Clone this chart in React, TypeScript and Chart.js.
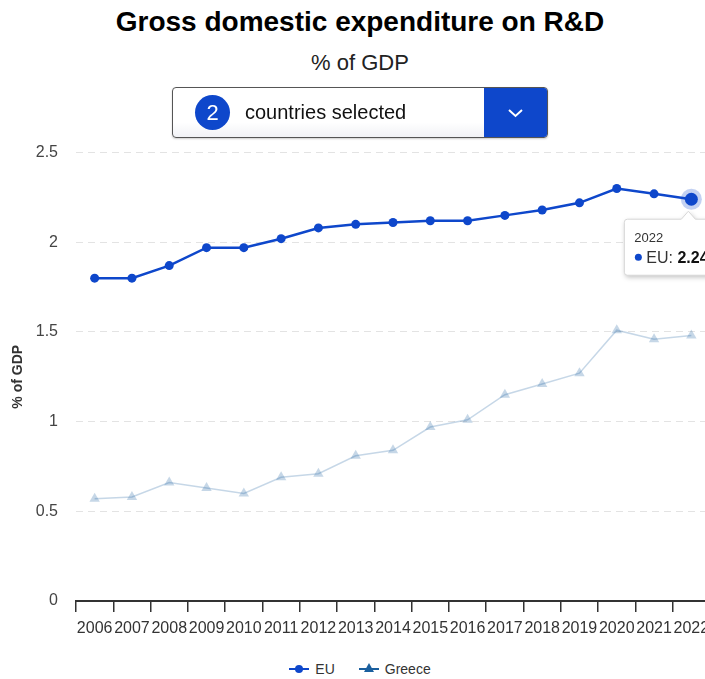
import React, { useEffect, useRef } from 'react';
import { Chart, registerables } from 'chart.js';

Chart.register(...registerables);

const years = ['2006', '2007', '2008', '2009', '2010', '2011', '2012', '2013', '2014', '2015', '2016', '2017', '2018', '2019', '2020', '2021', '2022'];
const euValues = [1.8, 1.8, 1.87, 1.97, 1.97, 2.02, 2.08, 2.1, 2.11, 2.12, 2.12, 2.15, 2.18, 2.22, 2.3, 2.27, 2.24];
const greeceValues = [0.57, 0.58, 0.66, 0.63, 0.6, 0.69, 0.71, 0.81, 0.84, 0.97, 1.01, 1.15, 1.21, 1.27, 1.51, 1.46, 1.48];
const seriesNames = ['EU', 'Greece'];
const yMin = 0;
const yMax = 2.5;
const yStep = 0.5;
const tooltipIndex = 16;

const FONT = '"Liberation Sans", Arial, Helvetica, sans-serif';
const EU_COLOR = '#0e47cb';
const GREECE_COLOR = '#1a5f9e';
const GREECE_FADED = 'rgba(26,95,158,0.25)';

const highlightPlugin = {
  id: 'highlightPlugin',
  beforeDatasetsDraw(chart: any) {
    const meta = chart.getDatasetMeta(0);
    const el = meta.data[tooltipIndex];
    if (!el) return;
    const ctx = chart.ctx;
    ctx.save();
    ctx.beginPath();
    ctx.arc(el.x, el.y, 10.5, 0, Math.PI * 2);
    ctx.fillStyle = 'rgba(14,71,203,0.25)';
    ctx.fill();
    ctx.restore();
  },
  afterDraw(chart: any) {
    const meta = chart.getDatasetMeta(0);
    const el = meta.data[tooltipIndex];
    if (!el) return;
    const ctx = chart.ctx;
    const px = el.x;
    const py = el.y;
    const boxLeft = px - 67;
    const boxTop = py + 20;
    const boxW = 94;
    const boxH = 56;
    const caretX = px - 3;
    const r = 3;
    ctx.save();
    ctx.beginPath();
    ctx.moveTo(boxLeft + r, boxTop);
    ctx.lineTo(caretX - 7, boxTop);
    ctx.lineTo(caretX, boxTop - 8);
    ctx.lineTo(caretX + 7, boxTop);
    ctx.lineTo(boxLeft + boxW - r, boxTop);
    ctx.quadraticCurveTo(boxLeft + boxW, boxTop, boxLeft + boxW, boxTop + r);
    ctx.lineTo(boxLeft + boxW, boxTop + boxH - r);
    ctx.quadraticCurveTo(boxLeft + boxW, boxTop + boxH, boxLeft + boxW - r, boxTop + boxH);
    ctx.lineTo(boxLeft + r, boxTop + boxH);
    ctx.quadraticCurveTo(boxLeft, boxTop + boxH, boxLeft, boxTop + boxH - r);
    ctx.lineTo(boxLeft, boxTop + r);
    ctx.quadraticCurveTo(boxLeft, boxTop, boxLeft + r, boxTop);
    ctx.closePath();
    ctx.shadowColor = 'rgba(0,0,0,0.25)';
    ctx.shadowBlur = 5;
    ctx.shadowOffsetX = 1;
    ctx.shadowOffsetY = 2;
    ctx.fillStyle = '#ffffff';
    ctx.fill();
    ctx.shadowColor = 'transparent';
    ctx.lineWidth = 1;
    ctx.strokeStyle = '#d8d8d8';
    ctx.stroke();

    ctx.fillStyle = '#333333';
    ctx.textBaseline = 'alphabetic';
    ctx.textAlign = 'left';
    ctx.font = `13px ${FONT}`;
    ctx.fillText(years[tooltipIndex], boxLeft + 10, boxTop + 23);

    ctx.beginPath();
    ctx.arc(boxLeft + 14, boxTop + 38, 3.5, 0, Math.PI * 2);
    ctx.fillStyle = EU_COLOR;
    ctx.fill();

    ctx.fillStyle = '#333333';
    ctx.font = `16px ${FONT}`;
    const label = `${seriesNames[0]}: `;
    ctx.fillText(label, boxLeft + 22, boxTop + 44);
    const lw = ctx.measureText(label).width;
    ctx.font = `bold 16px ${FONT}`;
    ctx.fillStyle = '#111111';
    ctx.fillText(euValues[tooltipIndex].toFixed(2), boxLeft + 22 + lw, boxTop + 44);
    ctx.restore();
  },
};

function LegendItem({ color, shape, text }: { color: string; shape: 'circle' | 'triangle'; text: string }) {
  return (
    <div style={{ display: 'flex', alignItems: 'center', marginRight: 24 }}>
      <div style={{ position: 'relative', width: 20, height: 12, marginRight: 6 }}>
        <div style={{ position: 'absolute', left: 0, top: 5, width: 20, height: 2, background: color }} />
        {shape === 'circle' ? (
          <div style={{ position: 'absolute', left: 6, top: 2, width: 8, height: 8, borderRadius: 4, background: color }} />
        ) : (
          <div
            style={{
              position: 'absolute',
              left: 5,
              top: 0,
              width: 0,
              height: 0,
              borderLeft: '5px solid transparent',
              borderRight: '5px solid transparent',
              borderBottom: `9px solid ${color}`,
            }}
          />
        )}
      </div>
      <span style={{ fontSize: 14, color: '#333', fontFamily: FONT }}>{text}</span>
    </div>
  );
}

export default function App() {
  const canvasRef = useRef<HTMLCanvasElement | null>(null);

  useEffect(() => {
    if (!canvasRef.current) return;
    const chart = new Chart(canvasRef.current, {
      type: 'line',
      data: {
        labels: years,
        datasets: [
          {
            label: seriesNames[0],
            data: euValues,
            borderColor: EU_COLOR,
            backgroundColor: EU_COLOR,
            borderWidth: 2.5,
            pointStyle: 'circle',
            pointRadius: (c: any) => (c.dataIndex === tooltipIndex ? 6.5 : 4.5),
            pointBorderWidth: 0,
            pointBackgroundColor: EU_COLOR,
            tension: 0,
            order: 0,
          },
          {
            label: seriesNames[1],
            data: greeceValues,
            borderColor: GREECE_FADED,
            backgroundColor: GREECE_FADED,
            borderWidth: 1.5,
            pointStyle: 'triangle',
            pointRadius: 6,
            pointBorderWidth: 0,
            pointBackgroundColor: GREECE_FADED,
            tension: 0,
            order: 1,
          },
        ],
      },
      options: {
        responsive: false,
        animation: false,
        events: [],
        layout: { padding: { top: 7, right: 10, left: 0, bottom: 0 } },
        plugins: {
          legend: { display: false },
          tooltip: { enabled: false },
          title: { display: false },
        },
        scales: {
          x: {
            type: 'category',
            offset: true,
            grid: {
              offset: true,
              drawOnChartArea: false,
              drawTicks: true,
              tickLength: 11,
              color: '#333333',
              lineWidth: 1.5,
            },
            border: { display: true, color: '#333333', width: 2 },
            ticks: {
              autoSkip: false,
              maxRotation: 0,
              minRotation: 0,
              padding: 7,
              color: '#333333',
              font: { size: 16, family: FONT },
            },
            afterFit(scale: any) {
              scale.height = 49;
            },
          },
          y: {
            min: yMin,
            max: yMax,
            grid: {
              color: '#e3e3e3',
              lineWidth: 1,
              drawTicks: false,
            },
            border: { display: false, dash: [7, 5] },
            ticks: {
              stepSize: yStep,
              padding: 18,
              color: '#444444',
              font: { size: 16, family: FONT },
              callback: (v: any) => String(Number(v)),
            },
            title: {
              display: true,
              text: '% of GDP',
              color: '#333333',
              font: { size: 14, weight: 'bold', family: FONT },
              padding: { top: 10, bottom: 0 },
            },
            afterFit(scale: any) {
              scale.width = 76;
            },
          },
        },
      },
      plugins: [highlightPlugin],
    } as any);
    return () => chart.destroy();
  }, []);

  return (
    <div style={{ position: 'fixed', left: 0, top: 0, width: 705, height: 679, overflow: 'hidden', background: '#fff', fontFamily: FONT }}>
      <div
        style={{
          position: 'absolute',
          left: 0,
          top: 6,
          width: 720,
          textAlign: 'center',
          fontSize: 28,
          lineHeight: '32px',
          fontWeight: 'bold',
          color: '#000',
        }}
      >
        Gross domestic expenditure on R&amp;D
      </div>
      <div
        style={{
          position: 'absolute',
          left: 0,
          top: 50,
          width: 720,
          textAlign: 'center',
          fontSize: 22,
          lineHeight: '26px',
          color: '#222',
        }}
      >
        % of GDP
      </div>
      <canvas
        ref={canvasRef}
        width={720}
        height={525}
        style={{ position: 'absolute', left: 0, top: 125, width: 720, height: 525 }}
      />
      <div
        style={{
          position: 'absolute',
          left: 172,
          top: 87,
          width: 376,
          height: 51,
          boxSizing: 'border-box',
          border: '1px solid #555',
          borderRadius: 4,
          background: 'linear-gradient(#ffffff, #ffffff 70%, #f1f2f6)',
          boxShadow: '0 1px 2px rgba(0,0,0,0.2)',
          overflow: 'hidden',
        }}
      >
        <div
          style={{
            position: 'absolute',
            left: 22,
            top: 7,
            width: 35,
            height: 35,
            borderRadius: '50%',
            background: EU_COLOR,
            color: '#fff',
            fontSize: 22,
            lineHeight: '35px',
            textAlign: 'center',
          }}
        >
          2
        </div>
        <div style={{ position: 'absolute', left: 72, top: 12, fontSize: 20, lineHeight: '24px', color: '#111' }}>
          countries selected
        </div>
        <div style={{ position: 'absolute', right: 0, top: 0, width: 63, height: 49, background: EU_COLOR }}>
          <svg width="63" height="49" style={{ position: 'absolute', left: 0, top: 0 }}>
            <polyline points="25,22 31.5,28 38,22" fill="none" stroke="#fff" strokeWidth="2" />
          </svg>
        </div>
      </div>
      <div
        style={{
          position: 'absolute',
          left: 0,
          top: 661,
          width: 720,
          display: 'flex',
          justifyContent: 'center',
          paddingLeft: 24,
          boxSizing: 'border-box',
        }}
      >
        <LegendItem color={EU_COLOR} shape="circle" text={seriesNames[0]} />
        <LegendItem color={GREECE_COLOR} shape="triangle" text={seriesNames[1]} />
      </div>
    </div>
  );
}
